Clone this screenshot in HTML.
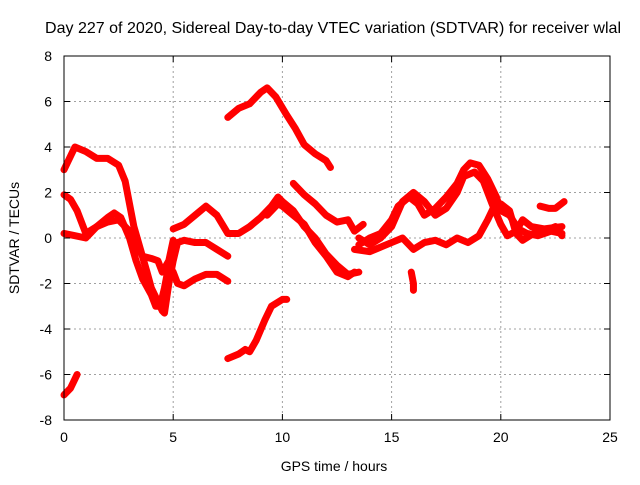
<!DOCTYPE html>
<html><head><meta charset="utf-8"><style>
body{margin:0;background:#fff;}
svg text{font-family:"Liberation Sans",sans-serif;font-size:14px;fill:#000;}
</style></head><body>
<svg id="chart" width="640" height="480">
<text x="333" y="33" text-anchor="middle" style="font-size:16px" textLength="576">Day 227 of 2020, Sidereal Day-to-day VTEC variation (SDTVAR) for receiver wlal</text>
<text x="334" y="471" text-anchor="middle">GPS time / hours</text>
<text transform="translate(19,238) rotate(-90)" text-anchor="middle">SDTVAR / TECUs</text>
<g id="grid"></g><g id="marks"></g>
<rect x="64" y="56" width="546" height="364" fill="none" stroke="#000" stroke-width="1"/>
<g id="ticks"></g>
</svg>
<script>
const xTicks=[0,5,10,15,20,25];
const yTicks=[-8,-6,-4,-2,0,2,4,6,8];
const sA=[[0,3],[0.5,4.0],[1,3.8],[1.5,3.5],[2,3.5],[2.5,3.2],[2.8,2.5],[3.0,1.5],[3.2,0.5],[3.5,-0.5],[3.8,-1.5],[4.0,-2.2],[4.3,-2.8],[4.5,-3.2],[4.6,-3.3],[4.8,-2],[5.0,-1.0],[5.2,-0.2],[5.5,-0.1],[6.0,-0.2],[6.5,-0.2],[7,-0.5],[7.5,-0.8]];
const sB=[[0,1.9],[0.3,1.7],[0.6,1.2],[1.0,0.2],[1.5,0.5],[2,0.7],[2.5,0.8],[3,0.3],[3.3,-0.3],[3.6,-0.8],[4,-0.9],[4.3,-1.0],[4.5,-1.5],[4.8,-1.0],[5.0,-0.1]];
const sC=[[0,0.2],[0.5,0.1],[1,0.0],[1.5,0.5],[2.0,0.9],[2.3,1.1],[2.6,0.9],[3,0.0],[3.3,-1.0],[3.6,-1.8],[4,-2.5],[4.2,-3.0],[4.4,-3.0],[4.6,-2.2],[4.8,-1.2],[5.0,-1.5],[5.2,-2.0],[5.5,-2.1],[6,-1.8],[6.5,-1.6],[7,-1.6],[7.5,-1.9]];
const sD=[[5,0.4],[5.5,0.6],[6,1.0],[6.5,1.4],[7,1.0],[7.5,0.2],[8,0.2],[8.5,0.5],[9,0.9],[9.5,1.4],[9.8,1.8],[10,1.6],[10.5,1.2],[11,0.5],[11.5,0],[12,-0.7],[12.5,-1.2],[13,-1.6],[13.5,-1.5]];
const sE=[[9.3,1.0],[9.8,1.5],[10,1.4],[10.5,1.0],[11,0.6],[11.5,-0.2],[12,-0.8],[12.5,-1.5],[13,-1.7],[13.3,-1.5]];
const sF=[[10.5,2.4],[11,1.9],[11.5,1.5],[12,1.0],[12.5,0.7],[13,0.8],[13.3,0.3],[13.7,0.6]];
const sG=[[7.5,5.3],[8,5.7],[8.5,5.9],[9,6.4],[9.3,6.6],[9.7,6.2],[10.2,5.4],[10.6,4.8],[11,4.1],[11.5,3.7],[12,3.4],[12.2,3.1]];
const sH=[[7.5,-5.3],[8,-5.1],[8.3,-4.9],[8.5,-5.0],[8.8,-4.5],[9.2,-3.6],[9.5,-3.0],[10,-2.7],[10.2,-2.7]];
const sI=[[0,-6.9],[0.3,-6.6],[0.6,-6.0]];
const sJ=[[13.5,-0.3],[14,0.0],[14.5,0.2],[15,0.8],[15.3,1.4],[15.8,1.8],[16.2,1.5],[16.5,1.0],[17,1.3],[17.5,1.8],[18,2.4],[18.3,3.0],[18.6,3.3],[19,3.2],[19.4,2.6],[19.8,1.8],[20,1.2],[20.4,1.0],[20.8,0.4],[21.2,0.2],[21.7,0.1],[22.3,0.3],[22.8,0.2]];
const sK=[[13.5,0.0],[14,-0.3],[14.5,0.0],[15,0.5],[15.5,1.6],[16,2.0],[16.5,1.6],[17,1.0],[17.5,1.3],[18,2.0],[18.3,2.7],[18.8,2.9],[19.2,2.5],[19.6,1.5],[20,0.6],[20.3,0.1],[20.7,0.3],[21,0.8],[21.4,0.5],[22,0.4],[22.8,0.5]];
const sL=[[13.3,-0.5],[14,-0.6],[15,-0.2],[15.5,0],[16,-0.5],[16.5,-0.2],[17,-0.1],[17.5,-0.3],[18,0.0],[18.5,-0.2],[19,0.1],[19.4,0.8],[19.7,1.4],[20,1.5],[20.4,1.2],[20.7,0.2],[21,-0.1],[21.5,0.2],[22,0.3],[22.5,0.5],[22.8,0.1]];
const sM=[[21.8,1.4],[22.2,1.3],[22.5,1.3],[22.9,1.6]];
const sN=[[15.9,-1.5],[16,-2.0],[16,-2.3]];
const series=[sA,sB,sC,sD,sE,sF,sG,sH,sI,sJ,sK,sL,sM,sN];
const NS="http://www.w3.org/2000/svg";
const X=v=>64+v*546/25, Y=v=>238-v*364/16;
const grid=document.getElementById('grid'),ticks=document.getElementById('ticks'),marks=document.getElementById('marks');
function mk(t,a,p){const e=document.createElementNS(NS,t);for(const k in a)e.setAttribute(k,a[k]);p.appendChild(e);return e;}
xTicks.forEach(t=>{
 const g=mk('line',{x1:X(t),x2:X(t),y1:56,y2:420,stroke:'#a0a0a0','stroke-dasharray':'2,3'},grid);
 
 
 mk('line',{x1:X(t),x2:X(t),y1:420,y2:414,stroke:'#000'},ticks);
 mk('line',{x1:X(t),x2:X(t),y1:56,y2:62,stroke:'#000'},ticks);
 const l=mk('text',{x:X(t),y:442,'text-anchor':'middle'},ticks);l.textContent=t;
 
 
});
yTicks.forEach(t=>{
 const g=mk('line',{x1:64,x2:610,y1:Y(t),y2:Y(t),stroke:'#a0a0a0','stroke-dasharray':'2,3'},grid);
 
 
 mk('line',{x1:64,x2:70,y1:Y(t),y2:Y(t),stroke:'#000'},ticks);
 mk('line',{x1:604,x2:610,y1:Y(t),y2:Y(t),stroke:'#000'},ticks);
 const l=mk('text',{x:52,y:Y(t)+5,'text-anchor':'end'},ticks);l.textContent=t;
 
 
});
series.forEach(s=>{
 const p=mk('polyline',{points:s.map(d=>X(d[0])+','+Y(d[1])).join(' '),fill:'none',stroke:'#f00','stroke-width':7,'stroke-linejoin':'round','stroke-linecap':'round'},marks);
 
 
});
</script>
</body></html>
